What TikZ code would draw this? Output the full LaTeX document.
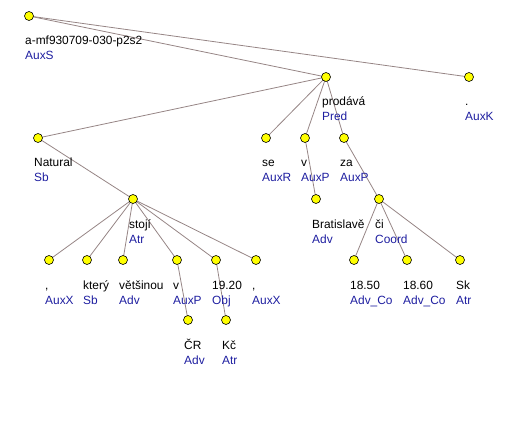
\documentclass[tikz,border=0pt]{standalone}
\usepackage{fontspec}
\setmainfont{Liberation Sans}
\usepackage{xcolor}
\usepackage{tikz}
\usetikzlibrary{positioning,backgrounds,calc}
\definecolor{treeEdge}{HTML}{968585}
\definecolor{treeDot}{HTML}{FFFF00}
\definecolor{afunBlue}{HTML}{1E1EA0}

% one tree token: circle, word form and analytical function under it
\newcommand{\treenode}[5]{%
  \node[tok] (#1) at (#2,#3) {};
  \node[form] (#1-f) at ([xshift=-4pt,yshift=-29pt]#1.center) {#4};
  \node[afun] (#1-a) at ([xshift=-4pt,yshift=-44pt]#1.center) {#5};}

\begin{document}
\begin{tikzpicture}[
  x=1pt, y=-1pt,
  tok/.style={circle, draw=black, fill=treeDot, line width=0.6pt, inner sep=0pt, minimum size=9pt},
  form/.style={anchor=base west, inner sep=0pt, text=black, font=\fontsize{11.9}{14}\selectfont},
  afun/.style={anchor=base west, inner sep=0pt, text=afunBlue, font=\fontsize{11.9}{14}\selectfont},
  dep/.style={draw=treeEdge, line width=0.8pt}
]
  \useasboundingbox (0,0) rectangle (521,430);

  \treenode{root}{29}{16}{a-mf930709-030-p2s2}{AuxS}
  \treenode{pred}{326}{77}{prodává}{Pred}
  \treenode{auxk}{469}{77}{.}{AuxK}
  \treenode{natural}{38}{138}{Natural}{Sb}
  \treenode{se}{266}{138}{se}{AuxR}
  \treenode{vb}{305}{138}{v}{AuxP}
  \treenode{za}{344}{138}{za}{AuxP}
  \treenode{stoji}{133}{199}{stojí}{Atr}
  \treenode{bratislave}{316}{199}{Bratislavě}{Adv}
  \treenode{ci}{379}{199}{či}{Coord}
  \treenode{comma1}{49}{260}{,}{AuxX}
  \treenode{ktery}{87}{260}{který}{Sb}
  \treenode{vetsinou}{123}{260}{většinou}{Adv}
  \treenode{vc}{177}{260}{v}{AuxP}
  \treenode{price}{216}{260}{19.20}{Obj}
  \treenode{comma2}{256}{260}{,}{AuxX}
  \treenode{pfrom}{354}{260}{18.50}{Adv\_Co}
  \treenode{pto}{407}{260}{18.60}{Adv\_Co}
  \treenode{sk}{460}{260}{Sk}{Atr}
  \treenode{cr}{188}{320}{ČR}{Adv}
  \treenode{kc}{226}{320}{Kč}{Atr}

  \begin{scope}[on background layer]
    \foreach \a/\b in {root/pred, root/auxk, pred/natural, pred/se, pred/vb, pred/za,
      natural/stoji, vb/bratislave, za/ci, stoji/comma1, stoji/ktery, stoji/vetsinou,
      stoji/vc, stoji/price, stoji/comma2, vc/cr, price/kc, ci/pfrom, ci/pto, ci/sk}
      \draw[dep] (\a.center) -- (\b.center);
  \end{scope}
\end{tikzpicture}
\end{document}
